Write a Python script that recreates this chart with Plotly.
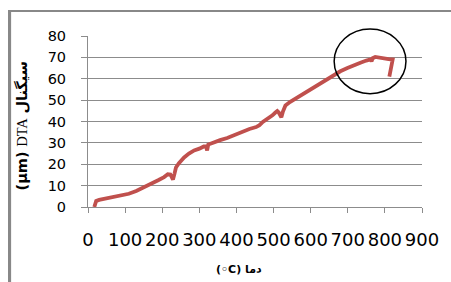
import plotly.graph_objects as go

temp = [17, 19, 22, 30, 45, 66, 90, 110, 130, 154, 175, 189, 205, 215, 222, 226, 229, 233, 237, 245,
        259, 272, 286, 300, 312, 318, 321, 324, 335, 356, 375, 391, 405, 418, 435, 453, 462, 471, 485,
        497, 505, 510, 514, 518, 521, 525, 532, 545, 559, 575, 594, 610, 629, 645, 664, 680, 699, 715,
        734, 750, 761, 764, 767, 774, 785, 796, 810, 821, 818, 812]
dta = [0, 2, 2.8, 3.3, 3.8, 4.5, 5.2, 6.2, 7.5, 9.4, 11.2, 12.5, 14, 15.3, 15.2, 14, 12.8, 15.5, 18.5, 20.5,
       23.2, 25, 26.5, 27.3, 28.3, 28.3, 26.5, 29.2, 30, 31.3, 32.3, 33.5, 34.5, 35.6, 36.5, 37.4, 38.3, 39.8, 41.3,
       42.9, 44.2, 44.9, 44.2, 43, 42, 44.5, 47.5, 49.2, 50.7, 52.5, 54.6, 56.3, 58.5, 60.2, 62.1, 63.5, 65, 66.3,
       67.5, 68.5, 69, 68.2, 69.6, 70.2, 69.8, 69.4, 69.2, 69, 66, 61]

x_ticks = [0, 100, 200, 300, 400, 500, 600, 700, 800, 900]
y_ticks = [0, 10, 20, 30, 40, 50, 60, 70, 80]

fig = go.Figure()
fig.add_trace(go.Scatter(x=temp, y=dta, mode="lines",
                         line=dict(color="#C0504D", width=3.8), showlegend=False))

grid = "#8C8C8C"
fig.update_layout(
    width=451, height=282,
    margin=dict(l=88, r=22, t=36, b=75),
    paper_bgcolor="white", plot_bgcolor="white",
    font=dict(family="DejaVu Sans", color="#000000"),
    xaxis=dict(range=[0, 900], tickvals=x_ticks, ticktext=[str(v) for v in x_ticks],
               showgrid=False, zeroline=False, showline=True, linecolor=grid, linewidth=1,
               ticks="outside", ticklen=5, tickcolor=grid, tickfont=dict(size=18),
               ticklabelstandoff=11),
    yaxis=dict(range=[0, 80], tickvals=y_ticks, ticktext=[str(v) for v in y_ticks],
               showgrid=True, gridcolor=grid, gridwidth=1, zeroline=False,
               showline=True, linecolor=grid, linewidth=1,
               ticks="outside", ticklen=6, tickcolor=grid, tickfont=dict(size=14.5),
               ticklabelstandoff=12),
)

# outer chart border (left and top edges; runs off the right and bottom)
fig.add_shape(type="path", xref="paper", yref="paper",
              path="M -0.2332 -0.5 L -0.2332 1.146 L 1.2 1.146",
              line=dict(color="#888888", width=2), layer="above")

# highlight ellipse
fig.add_shape(type="circle", xref="paper", yref="paper", x0=0.737, x1=0.952, y0=0.663, y1=1.041,
              line=dict(color="black", width=1.5))

fig.add_annotation(xref="paper", yref="paper", x=0.451, y=-0.368, xanchor="center", yanchor="middle",
                   showarrow=False, text="<b>(◦C) دما</b>", font=dict(size=11, family="DejaVu Sans"))
fig.add_annotation(xref="paper", yref="paper", x=-0.199, y=0.474, xanchor="center", yanchor="middle",
                   showarrow=False, textangle=-90,
                   text="<b>(µm)</b> <span style='font-family:Liberation Serif'>DTA</span> <b>سیگنال</b>",
                   font=dict(size=14.5, family="DejaVu Sans"))

post = (
    "document.body.style.margin='0';"
    "document.body.style.overflow='hidden';"
    "document.documentElement.style.overflow='hidden';"
    "var b=document.createElement('div');"
    "b.style.cssText='position:absolute;left:8px;top:10px;width:443px;height:272px;"
    "box-sizing:border-box;border-left:2px solid #888;border-top:2px solid #888;pointer-events:none;';"
    "document.body.appendChild(b);"
)
fig.write_html("out.html", config={"displayModeBar": False}, post_script=post)
